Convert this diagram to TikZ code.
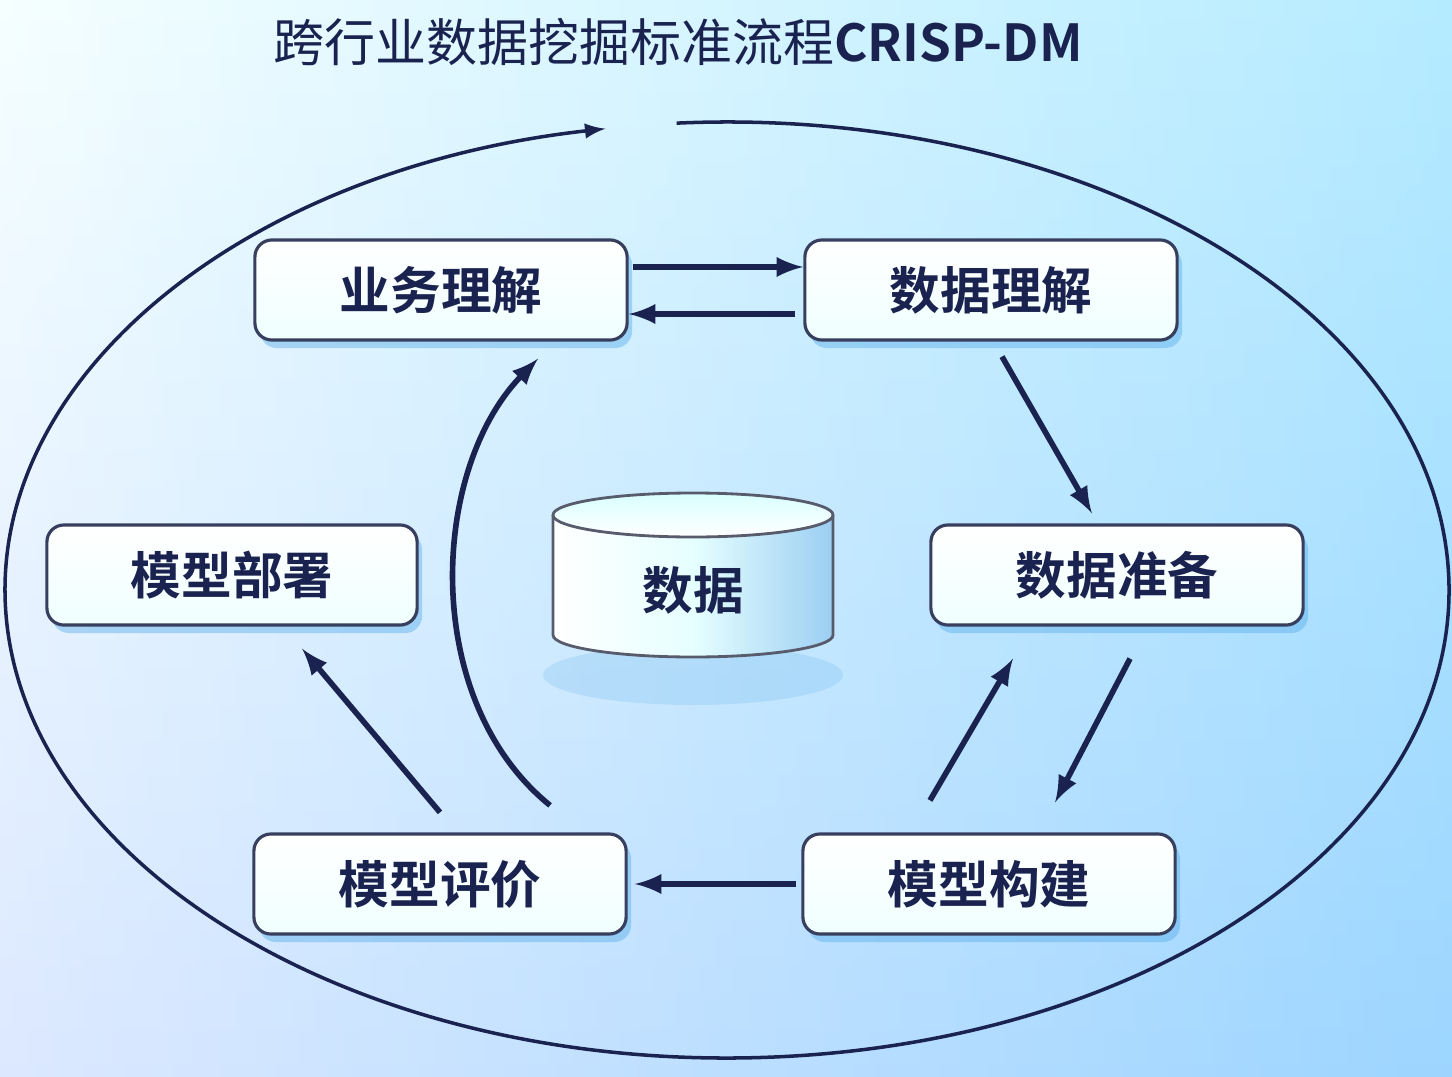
\documentclass[tikz,border=0pt]{standalone}
\usepackage{fontspec}
\newfontfamily\cjk{Noto Sans CJK SC}[BoldFont={* Bold}]
\usetikzlibrary{shadows,positioning,calc}
\definecolor{navy}{HTML}{1A2350}
\definecolor{glow}{HTML}{5AAEEA}
\tikzset{
  stage/.style={draw=navy!70!gray, line width=0.9pt, rounded corners=0.17cm,
    minimum width=3.72cm, minimum height=1.0cm, top color=white, bottom color=cyan!6!white,
    font=\cjk\bfseries\fontsize{14.4pt}{17pt}\selectfont, text=navy,
    drop shadow={shadow xshift=0.05cm, shadow yshift=-0.08cm, fill=glow, opacity=0.45}},
  flow/.style={-latex, line width=1.6pt, draw=navy}
}
\begin{document}
\begin{tikzpicture}[x=0.01cm, y=-0.01cm]
% background
\shade[top color=cyan!5!white, bottom color=cyan!35!blue!18!white] (0,0) rectangle (1452,1076);
\shade[left color=white, right color=blue!30!cyan, opacity=0.25] (0,0) rectangle (1452,1076);
\useasboundingbox (0,0) rectangle (1452,1076);
% title
\node[font=\cjk\fontsize{14.5pt}{17pt}\selectfont, text=navy] (title) at (678,42) {跨行业数据挖掘标准流程\textbf{CRISP-DM}};
% outer cycle
\draw[navy, line width=1pt, -latex] (727,590) ++(-94:722 and 468) arc[start angle=-94, end angle=260.3, x radius=722, y radius=468];
% stages
\node[stage] (bu) at (441,290) {业务理解};
\node[stage] (du) at (991,290) {数据理解};
\node[stage] (dp) at (1117,575) {数据准备};
\node[stage] (mb) at (989,884) {模型构建};
\node[stage] (me) at (440,884) {模型评价};
\node[stage, minimum width=3.7cm] (md) at (232,575) {模型部署};
% data cylinder
\fill[glow, opacity=0.2] (693,675) ellipse[x radius=150, y radius=30];
\draw[navy!40!gray, line width=0.8pt, left color=white, right color=glow!60!white, middle color=cyan!10!white]
  (553,515) -- (553,635) arc[start angle=180, end angle=0, x radius=140, y radius=22] -- (833,515);
\draw[navy!40!gray, line width=0.8pt, top color=cyan!15!white, bottom color=white] (693,515) ellipse[x radius=140, y radius=22];
\node[font=\cjk\bfseries\fontsize{14.4pt}{17pt}\selectfont, text=navy] (data) at (693,590) {数据};
% connectors
\draw[flow] ([yshift=0.23cm]bu.east) ++(4,0) coordinate (a1) -- (a1 -| du.west);
\draw[flow] ([yshift=-0.24cm]du.west) ++(-8,0) coordinate (a2) -- (a2 -| bu.east);
\draw[flow] ([xshift=0.11cm,yshift=-0.15cm]du.south) -- ([xshift=-0.25cm,yshift=0.1cm]dp.north);
\draw[flow] ([xshift=0.13cm,yshift=-0.32cm]dp.south) -- ([xshift=0.66cm,yshift=0.3cm]mb.north);
\draw[flow] ([xshift=-0.59cm,yshift=0.32cm]mb.north) -- ([xshift=-1.04cm,yshift=-0.32cm]dp.south);
\draw[flow] ([xshift=-0.05cm]mb.west) -- ([xshift=0.07cm]me.east);
\draw[flow] ([yshift=0.2cm]me.north) -- ([xshift=0.7cm,yshift=-0.22cm]md.south);
\draw[flow] ([xshift=1.1cm,yshift=0.27cm]me.north) .. controls (420,700) and (430,470) .. ([xshift=0.97cm,yshift=-0.17cm]bu.south);
\end{tikzpicture}
\end{document}
